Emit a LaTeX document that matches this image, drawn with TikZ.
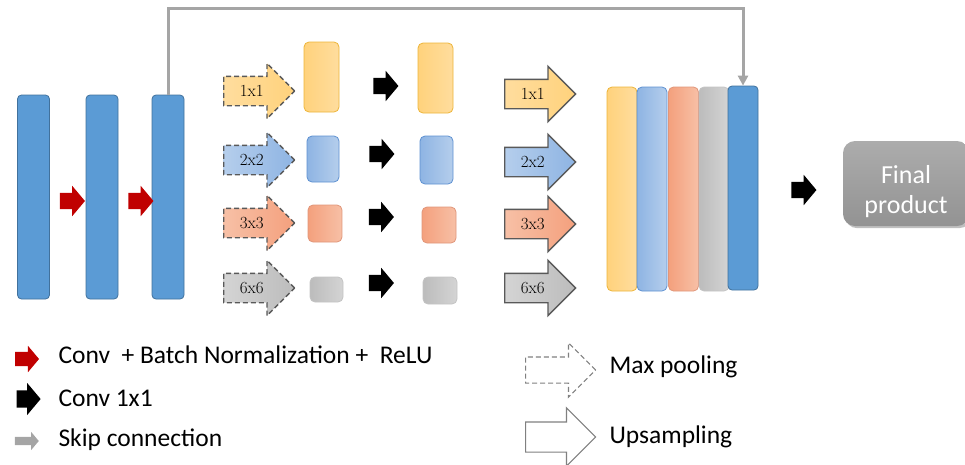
\documentclass[tikz,border=0pt]{standalone}
\usepackage{fontspec}
\newfontfamily\calib{Carlito}
\usepackage{tikz}
\usetikzlibrary{arrows.meta,positioning,calc,shapes.arrows,shadows}

\definecolor{encblue}{HTML}{5B9BD5}
\definecolor{encedge}{HTML}{41719C}
\definecolor{ylwA}{HTML}{FFD27C}
\definecolor{ylwB}{HTML}{FFDD9E}
\definecolor{ylwE}{HTML}{EDB53A}
\definecolor{bluA}{HTML}{8EB4E3}
\definecolor{bluB}{HTML}{B5CEEC}
\definecolor{bluE}{HTML}{5E91D1}
\definecolor{salA}{HTML}{F4A07D}
\definecolor{salB}{HTML}{F7C0A6}
\definecolor{salE}{HTML}{E0967A}
\definecolor{gryA}{HTML}{BCBCBC}
\definecolor{gryB}{HTML}{D4D4D4}
\definecolor{gryE}{HTML}{C4C4C4}
\definecolor{convred}{HTML}{C00000}
\definecolor{skipgray}{HTML}{A5A5A5}
\definecolor{edgegray}{HTML}{595959}

\begin{document}
\begin{tikzpicture}[x=1pt, y=-1pt,
  enc/.style={draw=encedge, fill=encblue, rounded corners=4pt, line width=0.8pt,
              minimum width=32pt, minimum height=204pt, inner sep=0pt},
  fmap/.style={draw=#1E, left color=#1A, right color=#1B, rounded corners=5pt,
               line width=0.8pt, inner sep=0pt},
  cat/.style={fmap=#1, minimum width=30pt, minimum height=204pt},
  pool/.style={single arrow, draw=edgegray, dashed, dash pattern=on 5pt off 3pt,
               line width=1.4pt, left color=#1B, right color=#1A,
               minimum height=71pt, minimum width=54pt, single arrow head extend=13pt,
               inner xsep=0pt, inner ysep=9pt, text height=10pt, text depth=0pt,
               anchor=tail, font=\fontsize{17}{18}\selectfont},
  up/.style={pool=#1, solid},
  blk/.style={single arrow, fill=#1, draw=none, minimum height=25pt, minimum width=30pt,
              single arrow head extend=7pt, inner xsep=0pt, inner ysep=8pt,
              single arrow tip angle=100},
  skip/.style={draw=skipgray, line width=3pt, -{Triangle[length=10pt,width=10pt]}},
  lgd/.style={anchor=west, font=\calib\fontsize{25.5}{28}\selectfont},
]
\useasboundingbox (0,0) rectangle (965,464);

% encoder
\node[enc] (enc1) at (33.5,197) {};
\node[enc] (enc2) at (102,197) {};
\node[enc] (enc3) at (168,197) {};
\node[blk=convred] (cbr1) at (69,201) {};
\node[blk=convred] (cbr2) at (137.5,201) {};

% pyramid pooling branches
\node[pool=ylw] (pool1) at (223,91) {1x1\hspace{32pt}};
\node[pool=blu] (pool2) at (223,160) {2x2\hspace{32pt}};
\node[pool=sal] (pool3) at (223,223) {3x3\hspace{32pt}};
\node[pool=gry] (pool4) at (223,288) {6x6\hspace{32pt}};

\node[fmap=ylw, minimum width=35pt, minimum height=70pt] (fa1) at (321.5,77) {};
\node[fmap=blu, minimum width=32pt, minimum height=46pt] (fa2) at (323,159) {};
\node[fmap=sal, minimum width=34pt, minimum height=37pt] (fa3) at (325,223.5) {};
\node[fmap=gry, minimum width=33pt, minimum height=25pt] (fa4) at (326.5,289.5) {};

\node[blk=black] (cv1) at (382.5,86) {};
\node[blk=black] (cv2) at (378.5,154) {};
\node[blk=black] (cv3) at (378,217) {};
\node[blk=black] (cv4) at (378,283) {};

\node[fmap=ylw, minimum width=35pt, minimum height=70pt] (fb1) at (435.5,78) {};
\node[fmap=blu, minimum width=33pt, minimum height=48pt] (fb2) at (436.5,160) {};
\node[fmap=sal, minimum width=34pt, minimum height=36pt] (fb3) at (439,225) {};
\node[fmap=gry, minimum width=34pt, minimum height=27pt] (fb4) at (440,290.5) {};

\node[up=ylw] (up1) at (504,94) {1x1\hspace{32pt}};
\node[up=blu] (up2) at (504,162) {2x2\hspace{32pt}};
\node[up=sal] (up3) at (504,224) {3x3\hspace{32pt}};
\node[up=gry] (up4) at (504,288) {6x6\hspace{32pt}};

% concatenation
\node[cat=ylw] (cat1) at (622,189) {};
\node[cat=blu] (cat2) at (652,189) {};
\node[cat=sal] (cat3) at (683.5,189) {};
\node[cat=gry] (cat4) at (714,189) {};
\node[enc, minimum width=30pt, minimum height=204pt] (cat5) at (743,188) {};

\coordinate (skiptop) at (450,8);
\draw[skip] (enc3.north) |- (skiptop) -| (cat5.north);

\node[blk=black] (cvout) at (800.5,190) {};
\node[draw=none, top color=gray!65, bottom color=gray!85, rounded corners=12pt,
      minimum width=126pt, minimum height=85pt, drop shadow, align=center,
      text=white, font=\calib\fontsize{26}{30}\selectfont] (final) at (906,183.5)
  {\rule{0pt}{35pt}Final\\product};

% legend
\node[blk=convred, minimum height=24pt, minimum width=26pt, inner ysep=7pt,
      single arrow head extend=6pt] (lgcbr) at (24,359) {};
\node[lgd] (lgcbrtxt) at (55,355) {Conv \ + Batch Normalization + \ ReLU};
\node[blk=black, minimum height=24pt, minimum width=32pt] (lgcv) at (25,399) {};
\node[lgd] (lgcvtxt) at (55,398) {Conv 1x1};
\node[blk=skipgray, minimum height=24pt, minimum width=18pt, inner ysep=4pt,
      single arrow head extend=5pt] (lgskip) at (25,441) {};
\node[lgd] (lgskiptxt) at (55,440) {Skip connection};

\node[single arrow, draw=gray, dashed, dash pattern=on 5pt off 3pt, line width=1.2pt,
      fill=white, minimum height=70pt, minimum width=54pt, inner xsep=0pt,
      inner ysep=12.5pt, single arrow head extend=14pt, anchor=tail] (lgpool) at (525,370) {};
\node[lgd] (lgpooltxt) at (606,367) {Max pooling};
\node[single arrow, draw=gray, line width=1.2pt, fill=white, minimum height=70pt,
      minimum width=58pt, inner xsep=0pt, inner ysep=14.5pt,
      single arrow head extend=14pt, anchor=tail] (lgup) at (525,437) {};
\node[lgd] (lguptxt) at (606,437) {Upsampling};
\end{tikzpicture}
\end{document}
